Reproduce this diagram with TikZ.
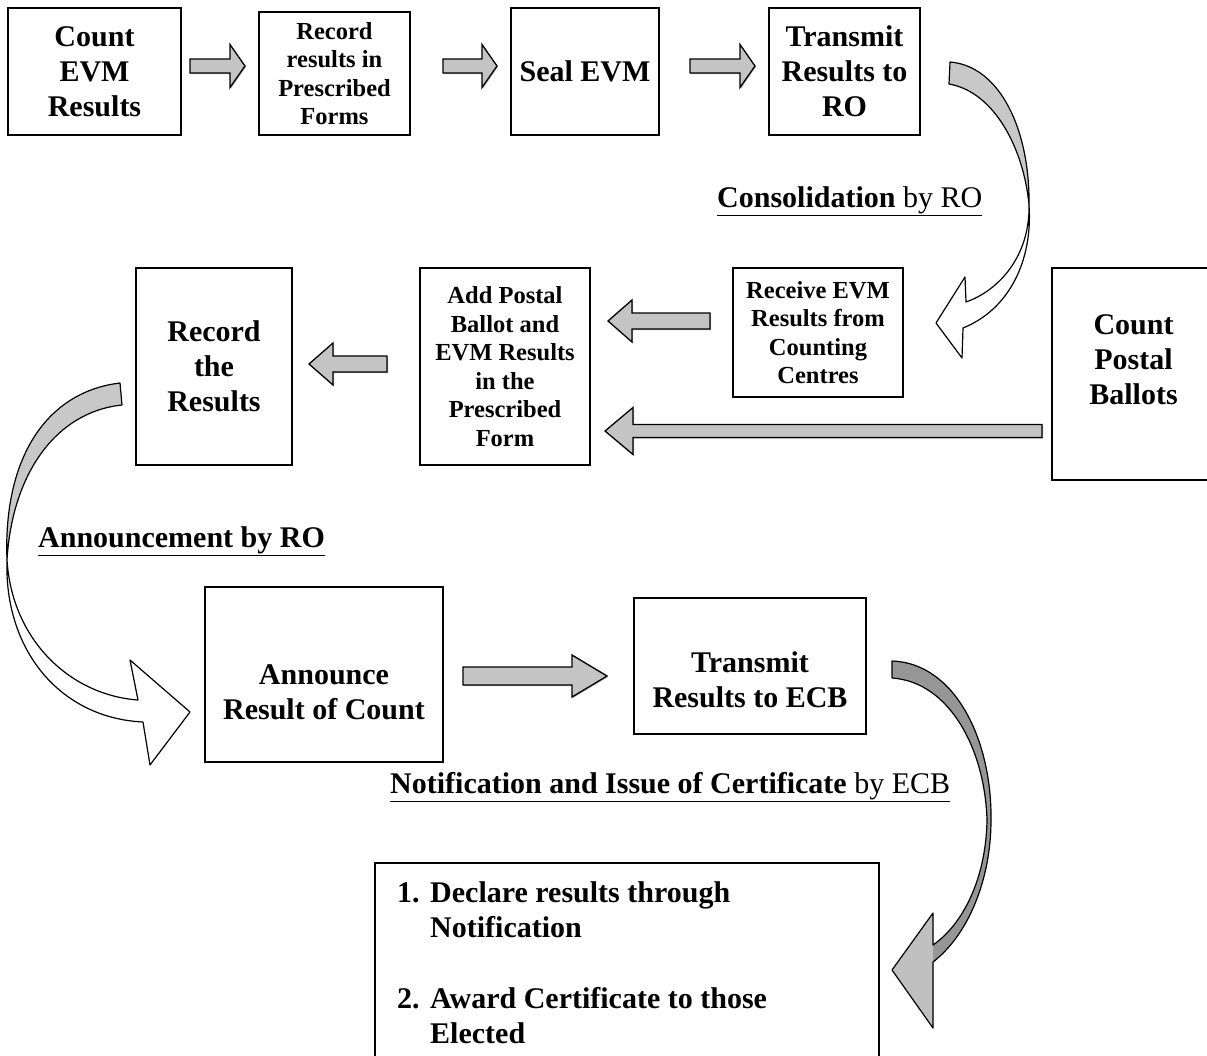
\documentclass[tikz,border=0pt]{standalone}
\usepackage{fontspec}
\setmainfont{Liberation Serif}
\usetikzlibrary{shadows}
\definecolor{arrgray}{RGB}{196,196,196}
\definecolor{bandgray}{RGB}{200,200,200}
\definecolor{darkband}{RGB}{150,150,150}
\definecolor{headgray}{RGB}{192,192,192}
\tikzset{
  frame/.style={draw, line width=1.2pt, inner sep=0pt},
  box/.style={frame, align=center, font=\bfseries\fontsize{30}{35}\selectfont},
  boxs/.style={frame, align=center, font=\bfseries\fontsize{24.5}{28.5}\selectfont},
  txt/.style={align=center, inner sep=0pt, font=\bfseries\fontsize{30}{35}\selectfont},
  lbl/.style={anchor=west, inner sep=0pt, font=\fontsize{30}{35}\selectfont},
  blk/.style={fill=arrgray, draw=black, line width=1.3pt, line join=miter,
    general shadow={shadow xshift=1pt, shadow yshift=-1pt, fill=black, opacity=0.3}},
  curveline/.style={draw=black, line width=1.2pt, line join=round},
}
% #1 tail x, #2 tip x, #3 centre y, #4 body half, #5 head half, #6 head base x
\newcommand{\blkarr}[6]{%
  \path[blk] (#1,#3-#4) -- (#6,#3-#4) -- (#6,#3-#5) -- (#2,#3) -- (#6,#3+#5)
    -- (#6,#3+#4) -- (#1,#3+#4) -- cycle;}
\begin{document}
\begin{tikzpicture}[x=1pt,y=-1pt]
\useasboundingbox (0,0) rectangle (1207,1055);
\clip (0,0) rectangle (1207,1055);

% ---- row 1
\node[box, minimum width=173, minimum height=127] (b1) at (94.5,71.5) {Count\\EVM\\Results};
\node[boxs, minimum width=151, minimum height=123] (b2) at (334.5,73.5) {Record\\results in\\Prescribed\\Forms};
\node[box, minimum width=148, minimum height=127] (b3) at (585,71.5) {Seal EVM};
\node[box, minimum width=151, minimum height=127] (b4) at (844.5,71.5) {Transmit\\Results to\\RO};

% ---- row 2
\node[box, minimum width=156, minimum height=197] (b5) at (214,366.5) {Record\\the\\Results};
\node[boxs, minimum width=170, minimum height=197] (b6) at (505,366.5) {Add Postal\\Ballot and\\EVM Results\\in the\\Prescribed\\Form};
\node[boxs, minimum width=170, minimum height=129] (b7) at (818,332.5) {Receive EVM\\Results from\\Counting\\Centres};
\node[frame, minimum width=163, minimum height=212] (b8) at (1133.5,374) {};
\node[txt] (t8) at (1133.5,360) {Count\\Postal\\Ballots};

% ---- row 3
\node[frame, minimum width=238, minimum height=175] (b9) at (324,674.5) {};
\node[txt] (t9) at (324,692) {Announce\\Result of Count};
\node[frame, minimum width=232, minimum height=136] (b10) at (750,666) {};
\node[txt] (t10) at (750,680) {Transmit\\Results to ECB};

% ---- bottom box
\node[frame, minimum width=504, minimum height=217] (b11) at (627,971.5) {};
\node[anchor=north west, inner sep=0pt, align=left, font=\bfseries\fontsize{30}{35}\selectfont] (list) at (397,878)
  {\begin{tabular}{@{}l@{\hspace{10.5pt}}l@{}}
   1. & Declare results through\\
      & Notification\\[36pt]
   2. & Award Certificate to those\\
      & Elected
   \end{tabular}};

% ---- labels
\node[lbl] (l1) at (717,201) {\underline{\textbf{Consolidation} by RO}};
\node[lbl] (l2) at (38,541) {\underline{\textbf{Announcement by RO}}};
\node[lbl] (l3) at (390,787) {\underline{\textbf{Notification and Issue of Certificate} by ECB}};

% ---- block arrows
\blkarr{190}{245}{66}{7}{21.5}{230}
\blkarr{443}{497}{66}{7}{21.5}{482}
\blkarr{690}{755}{66}{7}{21.5}{740}
\blkarr{710}{608}{321}{8}{21}{632}
\blkarr{387}{309}{364}{8}{21}{333}
\blkarr{1042}{605}{431}{6.5}{23.5}{633}
\blkarr{463}{607}{676}{9}{21}{572}

% ---- curved arrow 1 (Transmit RO -> Receive)
\path[curveline, fill=bandgray] (950,62) .. controls (1000,66) and (1030,130) .. (1029,205)
   .. controls (1024,150) and (995,92) .. (949,84) -- cycle;
\path[curveline, fill=white] (1029,205) .. controls (1030,255) and (1000,290) .. (966,302)
   -- (965,277) -- (936,323) -- (962,358) -- (963,328)
   .. controls (1008,310) and (1033,262) .. (1029,205) -- cycle;

% ---- curved arrow 2 (Record -> Announce)
\path[curveline, fill=bandgray] (120,383) .. controls (45,392) and (3,460) .. (7,560)
   .. controls (12,475) and (55,412) .. (122,405) -- cycle;
\path[curveline, fill=white] (7,560) .. controls (12,640) and (70,695) .. (138,700)
   -- (130,660) -- (190,712) -- (150,765) -- (143,722)
   .. controls (60,718) and (4,650) .. (7,560) -- cycle;

% ---- curved arrow 3 (Transmit ECB -> list)
\fill[darkband] (892,661) .. controls (955,663) and (992,740) .. (991,820)
   .. controls (991,880) and (968,935) .. (933,962) -- (933,1028) -- (892,970) -- (933,913)
   -- (933,945) .. controls (962,925) and (986,880) .. (987,820)
   .. controls (985,750) and (950,682) .. (892,678) -- cycle;
\fill[headgray] (933,913) -- (892,970) -- (933,1028) -- cycle;
\path[curveline] (892,661) .. controls (955,663) and (992,740) .. (991,820)
   .. controls (991,880) and (968,935) .. (933,962) -- (933,1028) -- (892,970) -- (933,913)
   -- (933,945) .. controls (962,925) and (986,880) .. (987,820)
   .. controls (985,750) and (950,682) .. (892,678) -- cycle;
\end{tikzpicture}
\end{document}
